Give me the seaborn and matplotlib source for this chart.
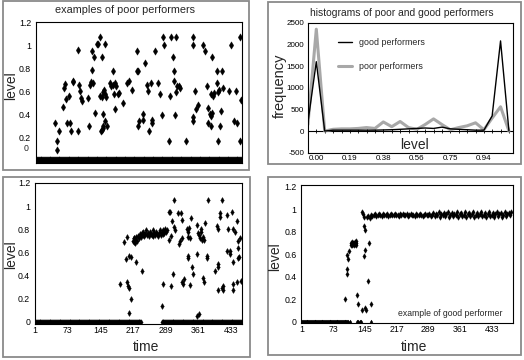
import numpy as np
import pandas as pd
import matplotlib
matplotlib.use('Agg')
import matplotlib.pyplot as plt
from matplotlib import font_manager
from matplotlib.patches import Rectangle
from matplotlib.lines import Line2D
import seaborn as sns

# ---------------- data ----------------
# top-left: examples of poor performers (non-zero points)
tl_time = [43, 47, 48, 52, 61, 64, 65, 67, 69, 75, 76, 78, 82, 83, 93, 95, 97, 98, 101, 102,
           117, 119, 120, 123, 125, 126, 128, 130, 132, 135, 138, 143, 143, 144, 146, 146, 148,
           149, 149, 150, 150, 151, 154, 154, 154, 157, 159, 165, 168, 171, 172, 174, 176, 176,
           178, 182, 185, 193, 203, 207, 213, 225, 225, 227, 227, 230, 237, 238, 242, 246, 249,
           252, 255, 257, 258, 264, 272, 275, 281, 283, 285, 296, 297, 300, 305, 306, 306, 308,
           311, 311, 314, 317, 319, 333, 348, 348, 348, 349, 353, 355, 360, 371, 375, 380, 382,
           382, 386, 388, 388, 388, 390, 390, 393, 396, 401, 401, 404, 404, 405, 409, 410, 412,
           416, 429, 432, 439, 443, 445, 452, 453, 454]
tl_level = [0.32, 0.165, 0.087, 0.25, 0.46, 0.63, 0.66, 0.53, 0.32, 0.56, 0.32, 0.25, 0.69, 0.68,
            0.25, 0.96, 0.65, 0.60, 0.54, 0.51, 0.54, 0.30, 0.65, 0.68, 0.95, 0.78, 0.67, 0.90,
            0.41, 1.01, 1.01, 1.07, 0.56, 0.25, 0.55, 0.26, 0.90, 0.28, 0.30, 0.40, 0.59, 0.61,
            1.01, 0.57, 0.34, 0.55, 0.30, 0.67, 0.64, 0.77, 0.65, 0.57, 0.67, 0.44, 0.64, 0.57,
            0.58, 0.50, 0.67, 0.69, 0.61, 0.95, 0.77, 0.77, 0.30, 0.34, 0.40, 0.35, 0.84, 0.65,
            0.60, 0.25, 0.67, 0.35, 0.32, 0.95, 0.67, 0.57, 0.39, 1.07, 1.00, 0.165, 0.56, 1.07,
            0.90, 0.77, 0.69, 0.39, 1.07, 0.59, 0.64, 0.64, 0.63, 0.165, 1.07, 1.00, 0.37, 0.34,
            0.60, 0.44, 0.48, 1.00, 0.95, 0.64, 0.45, 0.32, 0.40, 0.57, 0.38, 0.30, 0.90, 0.41,
            0.56, 0.58, 0.77, 0.67, 0.59, 0.165, 0.61, 0.30, 0.43, 0.77, 0.63, 0.60, 1.00, 0.34,
            0.60, 0.32, 0.165, 1.07, 0.52]
tl_zero_start = [1]
tl_zero_end = [456]

# bottom-left: poor performer
bl_time = [188, 197, 202, 203, 203, 205, 207, 207, 209, 212, 212, 219, 221, 224, 236, 280, 282,
           297, 297, 299, 300, 301, 302, 306, 307, 308, 309, 317, 318, 321, 322, 324, 324, 325,
           327, 330, 336, 338, 338, 339, 339, 341, 342, 342, 345, 346, 348, 357, 357, 357, 361,
           362, 363, 365, 366, 366, 368, 370, 372, 373, 373, 375, 379, 379, 382, 398, 401, 404,
           404, 405, 405, 409, 409, 412, 413, 415, 415, 424, 424, 427, 431, 431, 435, 437, 438,
           438, 438, 441, 445, 446, 448, 448, 449, 451, 453, 454]
bl_level = [0.33, 0.69, 0.54, 0.73, 0.34, 0.31, 0.29, 0.075, 0.57, 0.56, 0.20, 0.72, 0.68, 0.52,
            0.44, 0.14, 0.33, 0.95, 0.71, 0.95, 0.74, 0.31, 0.87, 0.41, 0.82, 1.05, 0.79, 0.94,
            0.67, 0.70, 0.94, 0.88, 0.34, 0.72, 0.33, 0.37, 0.80, 0.78, 0.73, 0.57, 0.55, 0.81,
            0.72, 0.32, 0.90, 0.47, 0.41, 0.84, 0.59, 0.05, 0.77, 0.07, 0.75, 0.72, 0.80, 0.78,
            0.71, 0.73, 0.38, 0.71, 0.34, 0.85, 0.57, 0.55, 1.05, 0.44, 0.83, 0.80, 0.47, 0.50,
            0.27, 0.91, 0.94, 1.05, 0.29, 0.31, 0.27, 0.61, 0.92, 0.80, 0.61, 0.59, 0.95, 0.33,
            0.80, 0.52, 0.27, 0.78, 0.34, 0.87, 0.64, 0.55, 0.70, 0.56, 0.72, 0.35]
bl_plateau_level = [0.70, 0.72, 0.69, 0.71, 0.73, 0.70, 0.74, 0.72, 0.76, 0.73, 0.77, 0.75, 0.78,
                    0.74, 0.76, 0.79, 0.75, 0.77, 0.74, 0.78, 0.76, 0.75, 0.79, 0.74, 0.77, 0.75,
                    0.78, 0.76, 0.74, 0.77, 0.79, 0.75, 0.78, 0.76, 0.79, 0.77, 0.80, 0.78, 0.79]
bl_plateau_time = list(range(216, 293, 2))
bl_zero_start = [1, 280]
bl_zero_end = [236, 456]

# bottom-right: good performer
br_time = [100, 104, 104, 105, 106, 109, 113, 114, 115, 116, 117, 118, 119, 120, 121, 122, 123,
           124, 125, 126, 127, 130, 138, 138, 140, 142, 142, 144, 145, 145, 146, 147, 153, 155, 158]
br_level = [0.20, 0.42, 0.59, 0.47, 0.56, 0.63, 0.68, 0.70, 0.69, 0.71, 0.68, 0.70, 0.69, 0.68,
            0.70, 0.71, 0.69, 0.70, 0.72, 0.68, 0.24, 0.16, 0.10, 0.98, 0.96, 0.58, 0.85, 0.93,
            0.12, 0.64, 0.82, 0.10, 0.36, 0.70, 0.16]
br_plateau_level = [0.93, 0.94, 0.92, 0.95, 0.94, 0.95, 0.96, 0.94, 0.95, 0.96, 0.95, 0.94, 0.96,
                    0.95, 0.95, 0.96, 0.94, 0.95, 0.96, 0.95,
                    0.95, 0.96, 0.95, 0.95, 0.94, 0.96, 0.95, 0.96, 0.95, 0.95, 0.96, 0.94, 0.95,
                    0.96, 0.95, 0.95, 0.94, 0.96, 0.95, 0.95, 0.96, 0.95, 0.94, 0.95, 0.96, 0.95,
                    0.95, 0.96, 0.94, 0.95,
                    0.97, 0.94, 0.96, 0.95, 0.98, 0.93, 0.96, 0.95, 0.97, 0.94, 0.96, 0.98, 0.93,
                    0.95, 0.97, 0.94, 0.96, 0.95, 0.98, 0.93, 0.96, 0.97, 0.94, 0.95, 0.98, 0.93,
                    0.96, 0.97, 0.94, 0.96, 0.98, 0.93, 0.95, 0.97, 0.94, 0.96, 0.98, 0.94, 0.95,
                    0.97, 0.93, 0.96, 0.98, 0.94, 0.95, 0.97, 0.93, 0.96, 0.98, 0.94, 0.96, 0.97,
                    0.93, 0.95, 0.98, 0.94, 0.96, 0.97, 0.95, 0.98]
br_plateau_time = list(range(150, 480, 3))
br_zero_start = [1]
br_zero_end = [108]
br_zero_extra = [112, 127, 130, 133, 136, 160]

# top-right: histograms
hist_level = [-0.047, 0.0, 0.047, 0.094, 0.141, 0.188, 0.234, 0.281, 0.328, 0.375, 0.422, 0.469,
              0.516, 0.563, 0.609, 0.656, 0.703, 0.75, 0.797, 0.844, 0.891, 0.938, 0.984, 1.031,
              1.078]
good_freq = [200, 1600, 0, 20, 20, 20, 20, 20, 20, 25, 30, 40, 50, 60, 70, 60, 90, 50, 40, 30,
             20, 20, 350, 2080, 0]
poor_freq = [150, 2350, 0, 40, 50, 50, 60, 80, 60, 210, 100, 220, 80, 40, 150, 280, 150, 30, 80,
             120, 190, 30, 300, 560, 0]
hist_tick_pos = [0.0, 0.1875, 0.375, 0.5625, 0.75, 0.9375]
hist_tick_labels = ['0.00', '0.19', '0.38', '0.56', '0.75', '0.94']
time_ticks = [1, 73, 145, 217, 289, 361, 433]

# ---------------- style ----------------
sns.set_theme(style='white')
names = {f.name for f in font_manager.fontManager.ttflist}
narrow = 'Liberation Sans Narrow' if 'Liberation Sans Narrow' in names else 'Liberation Sans'
plt.rcParams['font.family'] = [narrow, 'DejaVu Sans']
REG = ['Liberation Sans', 'DejaVu Sans']
TICK_FS = 6.3

W, H = 524, 360
fig = plt.figure(figsize=(W / 100, H / 100), dpi=100)
fig.patch.set_facecolor('white')


def ax_at(l, t, r, b):
    return fig.add_axes([l / W, 1 - b / H, (r - l) / W, (b - t) / H])


def ftext(x, y, s, **kw):
    fig.text(x / W, 1 - y / H, s, ha='center', va='center', **kw)


def frame(x0, y0, x1, y1):
    fig.add_artist(Rectangle((x0 / W, 1 - y1 / H), (x1 - x0) / W, (y1 - y0) / H,
                             transform=fig.transFigure, fill=False, edgecolor='#8a8a8a',
                             linewidth=1.3))


def style_axes(ax):
    for sp in ax.spines.values():
        sp.set_color('black')
        sp.set_linewidth(0.8)
        sp.set_visible(True)
    ax.tick_params(axis='both', labelsize=TICK_FS, colors='black', length=2, width=0.6,
                   pad=1.5, direction='out')
    ax.tick_params(axis='x', length=0)
    ax.set_xlabel('')
    ax.set_ylabel('')


def zero_times(starts, ends, step):
    out = []
    for s, e in zip(starts, ends):
        out.extend(range(s, e + 1, step))
    return out


# panel frames
frame(3, 1, 249, 170)
frame(3, 177, 249.5, 357)
frame(268, 2, 520.5, 164)
frame(268, 177, 520.5, 355)

lvl_ticks = [0, 0.2, 0.4, 0.6, 0.8, 1.0, 1.2]
lvl_labels = ['0', '0.2', '0.4', '0.6', '0.8', '1', '1.2']

# ---- top-left ----
ax1 = ax_at(36, 22, 242, 163)
z = zero_times(tl_zero_start, tl_zero_end, 2)
sns.scatterplot(x=z, y=[0.0] * len(z), ax=ax1, marker='d', s=14, color='black',
                edgecolor='black', linewidth=0.3, legend=False)
sns.scatterplot(x=tl_time, y=tl_level, ax=ax1, marker='d', s=14, color='black',
                edgecolor='black', linewidth=0.3, legend=False)
ax1.set_xlim(1, 457)
ax1.set_ylim(-0.026, 1.2)
style_axes(ax1)
ax1.set_xticks([])
ax1.set_yticks(lvl_ticks)
ax1.set_yticklabels([''] + lvl_labels[1:])
ax1.text(-0.035, 0.104, '0', transform=ax1.get_yaxis_transform(), ha='right', va='center',
         fontsize=TICK_FS)

# ---- bottom-left ----
ax2 = ax_at(35, 183, 242, 324)
z = zero_times(bl_zero_start, bl_zero_end, 2)
sns.scatterplot(x=z, y=[0.0] * len(z), ax=ax2, marker='d', s=8, color='black',
                edgecolor='black', linewidth=0.3, legend=False)
sns.scatterplot(x=bl_plateau_time, y=bl_plateau_level, ax=ax2, marker='d', s=9, color='black',
                edgecolor='black', linewidth=0.3, legend=False)
sns.scatterplot(x=bl_time, y=bl_level, ax=ax2, marker='d', s=9, color='black',
                edgecolor='black', linewidth=0.3, legend=False)
ax2.set_xlim(1, 457)
ax2.set_ylim(-0.02, 1.2)
style_axes(ax2)
ax2.set_xticks(time_ticks)
ax2.set_xticklabels([str(t) for t in time_ticks])
ax2.set_yticks(lvl_ticks)
ax2.set_yticklabels(lvl_labels)

# ---- bottom-right ----
ax3 = ax_at(301.3, 185, 512.7, 323)
z = zero_times(br_zero_start, br_zero_end, 2) + br_zero_extra
sns.scatterplot(x=z, y=[0.0] * len(z), ax=ax3, marker='d', s=6, color='black',
                edgecolor='black', linewidth=0.3, legend=False)
sns.scatterplot(x=br_plateau_time, y=br_plateau_level, ax=ax3, marker='d', s=8, color='black',
                edgecolor='black', linewidth=0.3, legend=False)
sns.scatterplot(x=br_time, y=br_level, ax=ax3, marker='d', s=8, color='black',
                edgecolor='black', linewidth=0.3, legend=False)
ax3.set_xlim(1, 480)
ax3.set_ylim(-0.012, 1.216)
style_axes(ax3)
ax3.set_xticks(time_ticks)
ax3.set_xticklabels([str(t) for t in time_ticks])
ax3.set_yticks(lvl_ticks)
ax3.set_yticklabels(lvl_labels)

# ---- top-right ----
ax4 = ax_at(308, 22.7, 512.7, 152.7)
ax4.axhline(0, color='black', lw=0.8, zorder=1)
sns.scatterplot(x=hist_level, y=[0] * len(hist_level), ax=ax4, marker='|', s=8,
                color='black', linewidth=0.6, legend=False, zorder=1)
sns.lineplot(x=hist_level, y=poor_freq, ax=ax4, color='#a8a8a8', lw=2.2,
             label='poor performers', zorder=2)
sns.lineplot(x=hist_level, y=good_freq, ax=ax4, color='black', lw=1.0,
             label='good performers', zorder=3)
ax4.set_xlim(-0.0465, 1.099)
ax4.set_ylim(-500, 2500)
style_axes(ax4)
ax4.tick_params(axis='both', labelsize=5.8)
ax4.set_xticks(hist_tick_pos)
ax4.set_xticklabels(hist_tick_labels)
ax4.set_yticks([-500, 0, 500, 1000, 1500, 2000, 2500])
ax4.set_yticklabels(['-500', '0', '500', '1000', '1500', '2000', '2500'])
ax4.tick_params(axis='y', pad=0.8)
leg_handles = [Line2D([], [], color='black', lw=1.0), Line2D([], [], color='#a8a8a8', lw=2.2)]
ax4.legend(leg_handles, ['good performers', 'poor performers'], loc='upper left',
           bbox_to_anchor=(0.1466, 0.885), frameon=False, fontsize=6.4, borderpad=0,
           borderaxespad=0, handlelength=1.6, handletextpad=0.8, labelspacing=1.75)

# ---- texts ----
ftext(124.7, 10, 'examples of poor performers', fontsize=7.8)
ftext(402.3, 12.5, 'histograms of poor and good performers', fontsize=7.4)
ftext(11, 86, 'level', fontsize=10, rotation=90, family=REG)
ftext(11, 254.7, 'level', fontsize=10, rotation=90, family=REG)
ftext(275, 256.7, 'level', fontsize=10, rotation=90, family=REG)
ftext(280, 85.8, 'frequency', fontsize=10.5, rotation=90, family=REG)
ftext(146, 346.7, 'time', fontsize=10, family=REG)
ftext(413.6, 346.7, 'time', fontsize=10, family=REG)
ftext(414.7, 145, 'level', fontsize=10, family=REG)
ftext(450, 314, 'example of good performer', fontsize=6.2)

fig.savefig('out.png', dpi=100, facecolor='white')
